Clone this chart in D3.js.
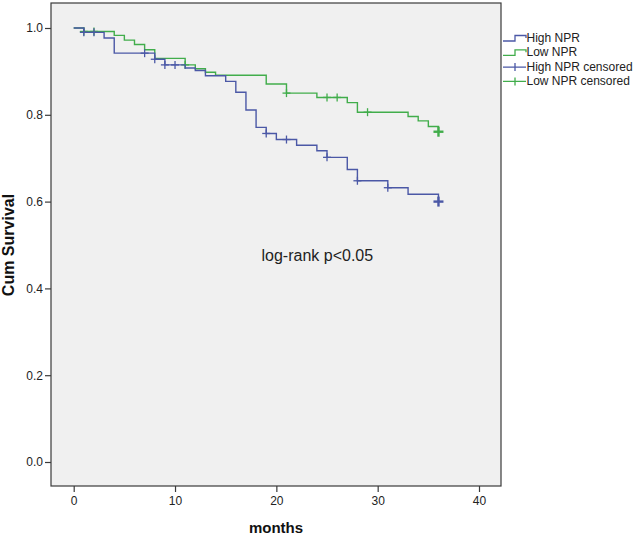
<!DOCTYPE html>
<html><head><meta charset="utf-8">
<script src="https://cdn.jsdelivr.net/npm/d3@7"></script>
<style>
html,body{margin:0;padding:0;background:#fff;}
svg{display:block;font-family:Arial,"Liberation Sans",sans-serif;}
</style></head>
<body><svg id="c" width="633" height="539"></svg>
<script>
// ---- data ----
const xTicks = [0, 10, 20, 30, 40];
const yTicks = [0.0, 0.2, 0.4, 0.6, 0.8, 1.0];

const highTimes = [0, 1, 3, 4, 8, 9, 11, 12, 13, 15, 16, 17, 18, 19, 20, 22, 24, 25, 27, 28, 31, 33, 36];
const highSurv  = [1.0, 0.990, 0.977, 0.942, 0.928, 0.915, 0.908, 0.902, 0.890, 0.877, 0.852, 0.811, 0.771, 0.757, 0.743, 0.730, 0.717, 0.702, 0.674, 0.648, 0.632, 0.617, 0.600];
const highCensored = [1, 2, 7, 8, 9, 10, 19, 21, 25, 28, 31, 36];

const lowTimes = [0, 1, 4, 5, 6, 7, 8, 11, 12, 13, 14, 19, 21, 24, 27, 28, 33, 34, 35, 36];
const lowSurv  = [1.0, 0.992, 0.983, 0.972, 0.962, 0.950, 0.930, 0.915, 0.906, 0.898, 0.891, 0.871, 0.850, 0.840, 0.828, 0.806, 0.796, 0.786, 0.773, 0.761];
const lowCensored = [1, 2, 11, 21, 25, 26, 29, 36];

const seriesNames = ["High NPR", "Low NPR", "High NPR censored", "Low NPR censored"];
const colHigh = "#4b58a6", colLow = "#41ad4b";
const finalTime = 36;

// ---- drawing ----
const svg = d3.select("#c");
const box = {l: 51, r: 501, t: 3, b: 486};
const x = d3.scaleLinear().domain([0, 40]).range([73.7, 479]);
const y = d3.scaleLinear().domain([0, 1]).range([462, 28]);

svg.append("rect").attr("x", box.l).attr("y", box.t)
  .attr("width", box.r - box.l).attr("height", box.b - box.t)
  .attr("fill", "#f0f0f0").attr("stroke", "#3a3a3a").attr("stroke-width", 1.2);

// axes
const yAxis = svg.append("g").attr("transform", `translate(${box.l},0)`)
  .call(d3.axisLeft(y).tickValues(yTicks).tickFormat(d3.format(".1f")).tickSize(6).tickPadding(2));
const xAxis = svg.append("g").attr("transform", `translate(0,${box.b})`)
  .call(d3.axisBottom(x).tickValues(xTicks).tickFormat(d3.format("d")).tickSize(6).tickPadding(4));
[yAxis, xAxis].forEach(g => {
  g.select(".domain").remove();
  g.selectAll("line").attr("stroke", "#3a3a3a").attr("stroke-width", 1.2);
  g.selectAll("text").attr("fill", "#222").style("font-size", "12px").style("font-family", "Arial,'Liberation Sans',sans-serif");
});

// curves
function stepVal(times, surv, t) {
  let v = surv[0];
  for (let i = 0; i < times.length; i++) if (times[i] <= t) v = surv[i];
  return v;
}
const line = d3.line().x(d => x(d[0])).y(d => y(d[1])).curve(d3.curveStepAfter);
function drawSeries(times, surv, cens, col) {
  const pts = times.map((t, i) => [t, surv[i]]);
  if (times[times.length - 1] < finalTime) pts.push([finalTime, surv[surv.length - 1]]);
  svg.append("path").attr("d", line(pts)).attr("fill", "none")
    .attr("stroke", col).attr("stroke-width", 1.4);
  const g = svg.append("g").attr("stroke", col);
  cens.forEach(t => {
    const cx = x(t), cy = y(stepVal(times, surv, t));
    const last = t === finalTime;
    const s = last ? 5 : 4;
    g.append("line").attr("x1", cx).attr("x2", cx).attr("y1", cy - s).attr("y2", cy + s)
      .attr("stroke-width", last ? 2.4 : 1.3);
    g.append("line").attr("x1", cx - s).attr("x2", cx + s).attr("y1", cy).attr("y2", cy)
      .attr("stroke-width", last ? 2.4 : 1.3);
  });
}
drawSeries(lowTimes, lowSurv, lowCensored, colLow);
drawSeries(highTimes, highSurv, highCensored, colHigh);

// annotation
svg.append("text").attr("x", 261.5).attr("y", 261).attr("fill", "#222")
  .style("font-size", "16px").text("log-rank p<0.05");

// axis titles
svg.append("text").attr("transform", "translate(13.5,245) rotate(-90)")
  .attr("text-anchor", "middle").attr("fill", "#111")
  .style("font-size", "16px").style("font-weight", "bold").text("Cum Survival");
svg.append("text").attr("x", 276).attr("y", 533).attr("text-anchor", "middle").attr("fill", "#111")
  .style("font-size", "15px").style("font-weight", "bold").text("months");

// legend
const leg = svg.append("g");
const legCols = [colHigh, colLow, colHigh, colLow];
seriesNames.forEach((name, i) => {
  const by = 42 + i * 14.3;
  const c = legCols[i];
  const my = by - 3.5;
  if (i < 2) {
    leg.append("path").attr("fill", "none").attr("stroke", c).attr("stroke-width", 1.3)
      .attr("d", `M503,${my + 2.5}H515V${my - 3}H526V${my - 0.5}`);
  } else {
    leg.append("path").attr("fill", "none").attr("stroke", c).attr("stroke-width", 1.3)
      .attr("d", `M503,${my}H526M515,${my - 4}V${my + 4}`);
  }
  leg.append("text").attr("x", 526.5).attr("y", by).attr("fill", "#222")
    .style("font-size", "12px").text(name);
});
</script></body></html>
